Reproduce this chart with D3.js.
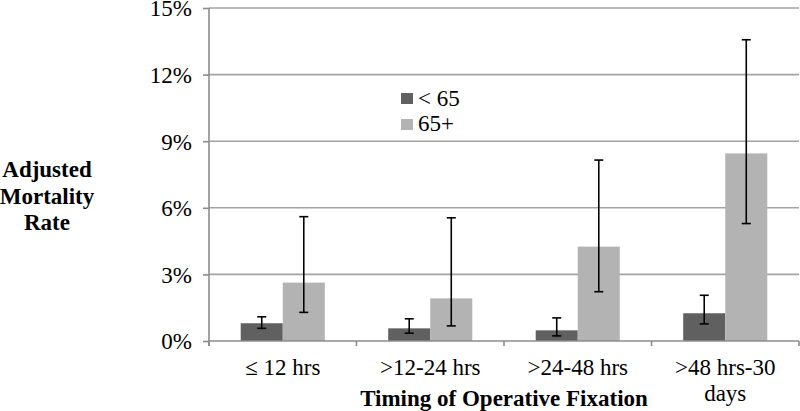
<!DOCTYPE html>
<html><head><meta charset="utf-8">
<script src="https://cdn.jsdelivr.net/npm/d3@7"></script>
<style>body{margin:0;background:#fff}svg{display:block}</style>
</head><body><svg id="c" width="800" height="411"></svg>
<script>
const categories = ["≤ 12 hrs", ">12-24 hrs", ">24-48 hrs", ">48 hrs-30 days"];
const categoryLines = [["≤ 12 hrs"], [">12-24 hrs"], [">24-48 hrs"], [">48 hrs-30", "days"]];
const seriesNames = ["< 65", "65+"];
const under65 = [0.80, 0.57, 0.48, 1.25];
const under65Low = [0.57, 0.35, 0.23, 0.77];
const under65High = [1.09, 1.00, 1.04, 2.06];
const over65 = [2.63, 1.92, 4.25, 8.45];
const over65Low = [1.29, 0.68, 2.22, 5.29];
const over65High = [5.60, 5.55, 8.15, 13.57];
const yTicks = [0, 3, 6, 9, 12, 15];
const colors = ["#606060", "#b3b3b3"];

const FONT = "'Liberation Serif', 'Times New Roman', Tinos, 'DejaVu Serif', serif";
const FS = "23px";
const svg = d3.select("#c");
const pLeft = 209, pRight = 799, pTop = 8, pBottom = 341;
const x = d3.scaleBand().domain(categories).range([pLeft, pRight]).paddingInner(0.43).paddingOuter(0.215);
const xs = d3.scaleBand().domain(seriesNames).range([0, x.bandwidth()]);
const y = d3.scaleLinear().domain([0, 15]).range([pBottom, pTop]);

// gridlines
svg.append("g").selectAll("line").data(yTicks.filter(d => d > 0)).join("line")
  .attr("x1", pLeft).attr("x2", pRight).attr("y1", d => y(d)).attr("y2", d => y(d))
  .attr("stroke", "#a3a3a3").attr("stroke-width", 1.6);

// y axis
const yAxis = svg.append("g").attr("transform", `translate(${pLeft},0)`)
  .call(d3.axisLeft(y).tickValues(yTicks).tickSize(6).tickPadding(11).tickFormat(d => d + "%"));
yAxis.attr("font-family", null).attr("font-size", null);
yAxis.select(".domain").attr("stroke", "#8c8c8c").attr("stroke-width", 1.6).attr("d", `M0,${pTop}V${pBottom + 5}`);
yAxis.selectAll(".tick line").attr("stroke", "#8c8c8c").attr("stroke-width", 1.6);
yAxis.selectAll(".tick text").style("font-family", FONT).style("font-size", FS).attr("fill", "#000").attr("dy", "0.34em");

// bars
const rows = categories.map((c, i) => [
  {c, s: seriesNames[0], v: under65[i], lo: under65Low[i], hi: under65High[i], col: colors[0]},
  {c, s: seriesNames[1], v: over65[i], lo: over65Low[i], hi: over65High[i], col: colors[1]}
]).flat();

svg.append("g").selectAll("rect").data(rows).join("rect")
  .attr("x", d => x(d.c) + xs(d.s)).attr("width", xs.bandwidth())
  .attr("y", d => y(d.v)).attr("height", d => y(0) - y(d.v))
  .attr("fill", d => d.col);

// x axis
const xAxis = svg.append("g").attr("transform", `translate(0,${pBottom})`);
xAxis.append("line").attr("x1", pLeft).attr("x2", pRight).attr("stroke", "#8c8c8c").attr("stroke-width", 1.6);
const bounds = categories.map(c => x(c) - x.step() * x.paddingOuter()).concat([pRight]);
xAxis.selectAll(".tk").data(bounds).join("line").attr("class", "tk")
  .attr("x1", d => d).attr("x2", d => d).attr("y1", 0).attr("y2", 5)
  .attr("stroke", "#8c8c8c").attr("stroke-width", 1.6);
categories.forEach((c, i) => {
  const t = svg.append("text").attr("x", x(c) + x.bandwidth() / 2).attr("y", 375)
    .attr("text-anchor", "middle").style("font-family", FONT).style("font-size", FS).attr("fill", "#000");
  categoryLines[i].forEach((ln, j) => t.append("tspan").attr("x", x(c) + x.bandwidth() / 2).attr("dy", j ? 26 : 0).text(ln));
});

// error bars
const eb = svg.append("g").attr("stroke", "#000").attr("stroke-width", 1.6);
rows.forEach(d => {
  const cx = x(d.c) + xs(d.s) + xs.bandwidth() / 2;
  eb.append("line").attr("x1", cx).attr("x2", cx).attr("y1", y(d.lo)).attr("y2", y(d.hi));
  [d.lo, d.hi].forEach(v => eb.append("line").attr("x1", cx - 4.5).attr("x2", cx + 4.5).attr("y1", y(v)).attr("y2", y(v)));
});

// axis titles
svg.append("text").attr("x", (pLeft + pRight) / 2).attr("y", 406).attr("text-anchor", "middle")
  .style("font-family", FONT).style("font-size", FS).attr("font-weight", "bold").text("Timing of Operative Fixation");
const yt = svg.append("text").attr("text-anchor", "middle").style("font-family", FONT).style("font-size", FS).attr("font-weight", "bold");
["Adjusted", "Mortality", "Rate"].forEach((ln, j) => yt.append("tspan").attr("x", 47).attr("y", 177 + j * 26.5).text(ln));

// legend
const lg = svg.append("g");
seriesNames.forEach((s, i) => {
  lg.append("rect").attr("x", 401).attr("y", 93 + i * 26).attr("width", 12).attr("height", 11).attr("fill", colors[i]);
  lg.append("text").attr("x", 418).attr("y", 106 + i * 24.5).style("font-family", FONT).style("font-size", FS).text(s);
});
</script></body></html>
